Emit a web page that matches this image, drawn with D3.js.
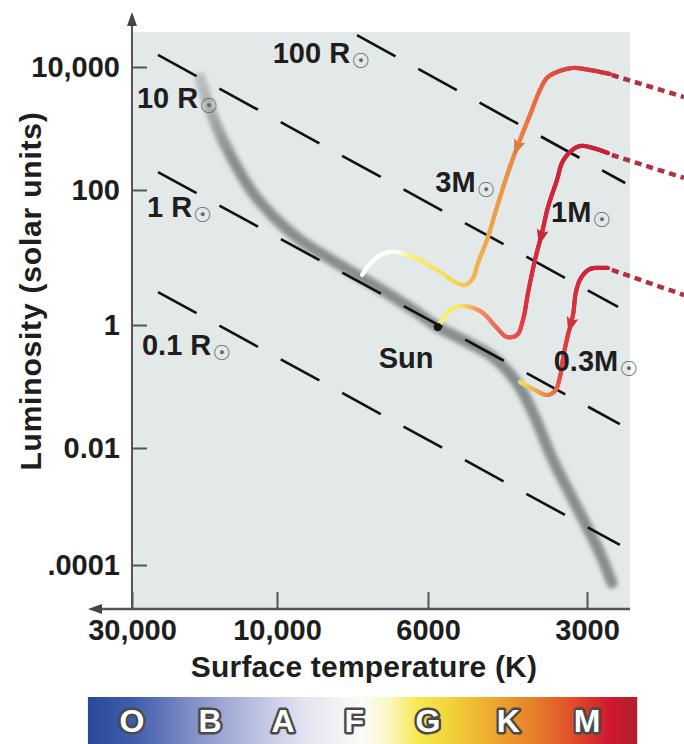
<!DOCTYPE html>
<html>
<head>
<meta charset="utf-8">
<style>
  body { margin: 0; background: #fff; }
  svg text { font-family: "Liberation Sans", Arial, sans-serif; font-weight: bold; }
</style>
<title>H-R diagram</title>
</head>
<body>
<svg id="chart" width="684" height="744"></svg>
<script src="https://cdn.jsdelivr.net/npm/d3@7/dist/d3.min.js"></script>
<script>
// axis ticks
var tempTicks = [30000, 10000, 6000, 3000];
var tempTickLabels = ["30,000", "10,000", "6000", "3000"];
var lumTicks = [1e4, 1e2, 1, 1e-2, 1e-4];
var lumTickLabels = ["10,000", "100", "1", "0.01", ".0001"];

// main sequence, [temperature K, luminosity]
var mainSequence = [
  [17900, 6620], [17000, 2900], [15760, 1058], [13960, 308], [12000, 90.3],
  [10000, 35.9], [9250, 18.2], [8645, 11.7], [8080, 7.74], [7500, 4.97],
  [6820, 2.78], [6270, 1.61], [5745, 0.928], [5063, 0.529], [4520, 0.302],
  [4070, 0.114], [3797, 0.0371], [3480, 0.00623], [3094, 0.000774],
  [2836, 0.00016], [2691, 0.0000493]
];

// lines of constant radius, start and end [T, L]
var radiusNames = ["100 R", "10 R", "1 R", "0.1 R"];
var radiusStart = [[7630, 33000], [24640, 15700], [24640, 196], [24640, 3.08]];
var radiusEnd = [[2540, 130], [2620, 1.85], [2600, 0.0245], [2600, 0.00022]];

// evolutionary tracks (from the main sequence outwards)
var trackNames = ["3M", "1M", "0.3M"];
var track3 = [
  [7500, 5.51], [7254, 8.58], [6990, 11.3], [6709, 12.1], [6442, 10.9],
  [6166, 9.18], [5694, 6.10], [5335, 4.34], [5108, 3.91], [4932, 4.97],
  [4826, 8.29], [4640, 18.2], [4442, 56.0], [4198, 237], [4018, 650],
  [3847, 1658], [3683, 4227], [3573, 6625], [3420, 8290], [3189, 9630],
  [2961, 8940], [2715, 7695]
];
var track1 = [
  [5750, 0.93], [5571, 1.36], [5405, 1.73], [5174, 1.91], [4932, 1.79],
  [4722, 1.51], [4442, 0.894], [4253, 0.638], [4071, 0.688], [3966, 1.186],
  [3880, 2.98], [3764, 9.18], [3651, 23.1], [3556, 56.0], [3420, 145],
  [3346, 275], [3231, 415], [3094, 519], [2923, 482], [2738, 400]
];
var track03 = [
  [4018, 0.118], [3897, 0.102], [3764, 0.0877], [3573, 0.0727], [3450, 0.0845],
  [3376, 0.1427], [3317, 0.3505], [3260, 0.688], [3189, 1.41], [3148, 3.08],
  [3080, 4.97], [2961, 6.75], [2738, 6.99]
];
var tracks = [track3, track1, track03];
// dotted continuation of each track, [T, L]
var trackTails = [
  [[2691, 7413], [1966, 3253]],
  [[2691, 371], [1966, 157]],
  [[2691, 6.53], [1966, 2.78]]
];
// luminosity where each direction arrow sits
var trackArrowL = [500, 20, 1];

var sun = [5750, 0.93];

var spectralClasses = ["O", "B", "A", "F", "G", "K", "M"];
var spectralTemps = [30000, 16600, 9800, 7700, 6000, 4230, 3000];
var barTemps = [41900, 2410];

var svg = d3.select("#chart");

var x = d3.scaleLog().domain(tempTicks).range([132, 277, 428, 587]);
var y = d3.scaleLog().domain(lumTicks).range([67, 190, 325, 448, 565]);

var defs = svg.append("defs");
defs.append("filter").attr("id", "blur")
  .attr("x", "-20%").attr("y", "-20%").attr("width", "140%").attr("height", "140%")
  .append("feGaussianBlur").attr("stdDeviation", 2.2);

// band fades in at its bright end
var msGrad = defs.append("linearGradient").attr("id", "msGrad")
  .attr("gradientUnits", "userSpaceOnUse")
  .attr("x1", 0).attr("x2", 0)
  .attr("y1", y(mainSequence[0][1])).attr("y2", y(mainSequence[3][1]));
msGrad.append("stop").attr("offset", 0).attr("stop-color", "#b9c0c0");
msGrad.append("stop").attr("offset", 1).attr("stop-color", "#868e8e");

// plot background
svg.append("rect")
  .attr("x", 133).attr("y", 32)
  .attr("width", 497).attr("height", 577)
  .attr("fill", "#e3e8e9");

// main sequence band
var line = d3.line()
  .x(function(d) { return x(d[0]); })
  .y(function(d) { return y(d[1]); })
  .curve(d3.curveCatmullRom.alpha(0.5));

svg.append("path")
  .attr("d", line(mainSequence))
  .attr("fill", "none")
  .attr("stroke", "url(#msGrad)")
  .attr("stroke-width", 11)
  .attr("stroke-linecap", "round")
  .attr("filter", "url(#blur)");

// radius lines
svg.selectAll("line.radius")
  .data(radiusNames)
  .enter().append("line")
  .attr("class", "radius")
  .attr("x1", function(d, i) { return x(radiusStart[i][0]); })
  .attr("y1", function(d, i) { return y(radiusStart[i][1]); })
  .attr("x2", function(d, i) { return x(radiusEnd[i][0]); })
  .attr("y2", function(d, i) { return y(radiusEnd[i][1]); })
  .attr("stroke", "#111")
  .attr("stroke-width", 2.6)
  .attr("stroke-dasharray", "44,26");

// radius labels, offset from the start of their line
var radiusLabelOffset = [[13, 28, "end"], [-21, 53, "start"], [-11, 45, "start"], [-16, 63, "start"]];

function solarLabel(sel, name) {
  sel.append("tspan").text(name);
  sel.append("tspan")
    .attr("dx", 1).attr("dy", 5)
    .style("font-family", "DejaVu Sans")
    .style("font-weight", "normal")
    .style("font-size", "21px")
    .style("fill", "#666")
    .text("\u2609");
}

radiusNames.forEach(function(name, i) {
  var o = radiusLabelOffset[i];
  var t = svg.append("text")
    .attr("x", x(radiusStart[i][0]) + o[0])
    .attr("y", y(radiusStart[i][1]) + o[1])
    .attr("text-anchor", o[2])
    .style("font-size", "29px")
    .style("fill", "#1e1e1e");
  solarLabel(t, name);
});

// tracks, coloured along their length
var trackStops = [
  [[0, "#ffffff"], [0.11, "#ffffff"], [0.15, "#f6f272"], [0.27, "#f3d85a"], [0.33, "#f1b452"], [0.6, "#ec9046"], [0.8, "#e86a40"], [0.9, "#dc4242"], [1, "#d03040"]],
  [[0, "#f8f070"], [0.1, "#f6ea60"], [0.16, "#f09060"], [0.26, "#e86058"], [0.4, "#dd3040"], [1, "#c82038"]],
  [[0, "#f5e060"], [0.08, "#f0c050"], [0.18, "#ee8048"], [0.3, "#e44a40"], [1, "#cc2038"]]
];

var arrowPoints = [];

tracks.forEach(function(pts, k) {
  var tmp = svg.append("path").attr("d", line(pts)).attr("fill", "none");
  var node = tmp.node();
  var len = node.getTotalLength();
  var stops = trackStops[k];
  var colour = d3.scaleLinear()
    .domain(stops.map(function(s) { return s[0]; }))
    .range(stops.map(function(s) { return s[1]; }));
  var samples = [];
  for (var s = 0; s < len; s += 1.5) samples.push(node.getPointAtLength(s));
  samples.push(node.getPointAtLength(len));
  tmp.remove();

  // dotted tail first so the solid end sits on top
  svg.append("line")
    .attr("x1", x(trackTails[k][0][0])).attr("y1", y(trackTails[k][0][1]))
    .attr("x2", x(trackTails[k][1][0])).attr("y2", y(trackTails[k][1][1]))
    .attr("stroke", "#b3303f")
    .attr("stroke-width", 4.5)
    .attr("stroke-dasharray", "7,5");

  var g = svg.append("g");
  for (var i = 1; i < samples.length; i++) {
    g.append("line")
      .attr("x1", samples[i - 1].x).attr("y1", samples[i - 1].y)
      .attr("x2", samples[i].x).attr("y2", samples[i].y)
      .attr("stroke", colour(i / (samples.length - 1)))
      .attr("stroke-width", 4.2)
      .attr("stroke-linecap", "round");
  }

  // arrow pointing back toward the main sequence
  var ty = y(trackArrowL[k]);
  var best = -1, bestD = 1e9;
  for (var j = Math.floor(samples.length * 0.3); j < samples.length - 4; j++) {
    var dd = Math.abs(samples[j].y - ty);
    if (dd < bestD) { bestD = dd; best = j; }
  }
  var a = samples[best + 4], b = samples[best - 4];
  var ang = Math.atan2(b.y - a.y, b.x - a.x) * 180 / Math.PI;
  svg.append("path")
    .attr("d", "M9,0L-7,-6L-4,0L-7,6Z")
    .attr("transform", "translate(" + samples[best].x + "," + samples[best].y + ") rotate(" + ang + ")")
    .attr("fill", d3.color(colour(best / (samples.length - 1))).darker(0.2));
  arrowPoints.push(samples[best]);
});

// track labels, offset from their arrows
var trackLabelOffset = [[-82, 45], [10, -15], [-17, 47]];
trackNames.forEach(function(name, k) {
  var t = svg.append("text")
    .attr("x", arrowPoints[k].x + trackLabelOffset[k][0])
    .attr("y", arrowPoints[k].y + trackLabelOffset[k][1])
    .style("font-size", "29px")
    .style("fill", "#1e1e1e");
  solarLabel(t, name);
});

// the Sun
svg.append("circle")
  .attr("cx", x(sun[0])).attr("cy", y(sun[1]))
  .attr("r", 4).attr("fill", "#111");
svg.append("text")
  .attr("x", x(sun[0]) - 59).attr("y", y(sun[1]) + 41)
  .style("font-size", "29px")
  .style("fill", "#1e1e1e")
  .text("Sun");

// axes
var xAxis = d3.axisBottom(x)
  .tickValues(tempTicks)
  .tickFormat(function(d, i) { return tempTickLabels[i]; })
  .tickSizeInner(-17).tickSizeOuter(0).tickPadding(10);
var gx = svg.append("g").attr("transform", "translate(0,609)").call(xAxis);
gx.select(".domain").remove();
gx.selectAll("line").attr("stroke", "#555").attr("stroke-width", 2);
gx.selectAll("text").style("font-size", "29px").style("fill", "#1e1e1e");

var yAxis = d3.axisLeft(y)
  .tickValues(lumTicks)
  .tickFormat(function(d, i) { return lumTickLabels[i]; })
  .tickSizeInner(-15).tickSizeOuter(0).tickPadding(12);
var gy = svg.append("g").attr("transform", "translate(132,0)").call(yAxis);
gy.select(".domain").remove();
gy.selectAll("line").attr("stroke", "#555").attr("stroke-width", 2);
gy.selectAll("text").style("font-size", "29px").style("fill", "#1e1e1e");

// axis lines with arrowheads
svg.append("line").attr("x1", 132).attr("y1", 20).attr("x2", 132).attr("y2", 610)
  .attr("stroke", "#555").attr("stroke-width", 2);
svg.append("path").attr("d", "M132,12L127,26L137,26Z").attr("fill", "#444");
svg.append("line").attr("x1", 96).attr("y1", 609).attr("x2", 630).attr("y2", 609)
  .attr("stroke", "#555").attr("stroke-width", 2.5);
svg.append("path").attr("d", "M88,609L102,604L102,614Z").attr("fill", "#444");

// axis titles
svg.append("text")
  .attr("x", 364).attr("y", 677)
  .attr("text-anchor", "middle")
  .style("font-size", "30px")
  .style("letter-spacing", "0.2px")
  .style("fill", "#1e1e1e")
  .text("Surface temperature (K)");
svg.append("text")
  .attr("transform", "translate(41,291) rotate(-90)")
  .attr("text-anchor", "middle")
  .style("font-size", "30px")
  .style("letter-spacing", "0.8px")
  .style("fill", "#1e1e1e")
  .text("Luminosity (solar units)");

// spectral class bar
var barStops = [
  [0, "#284a98"], [0.08, "#3f5caa"], [0.2, "#8794c8"], [0.3, "#b9bfe0"],
  [0.4, "#e6e6f2"], [0.5, "#fbfbf8"], [0.55, "#fbf6c0"], [0.6, "#f6ea50"],
  [0.66, "#f2d23a"], [0.73, "#eeac30"], [0.8, "#e8862c"], [0.88, "#e0502a"],
  [0.95, "#cf1830"], [1, "#b0202a"]
];
var grad = defs.append("linearGradient").attr("id", "spectral")
  .attr("x1", "0%").attr("x2", "100%").attr("y1", "0%").attr("y2", "0%");
grad.selectAll("stop").data(barStops).enter().append("stop")
  .attr("offset", function(d) { return d[0]; })
  .attr("stop-color", function(d) { return d[1]; });

svg.append("rect")
  .attr("x", x(barTemps[0])).attr("y", 697)
  .attr("width", x(barTemps[1]) - x(barTemps[0])).attr("height", 47)
  .attr("fill", "url(#spectral)");

svg.selectAll("text.cls")
  .data(spectralClasses)
  .enter().append("text")
  .attr("class", "cls")
  .attr("x", function(d, i) { return x(spectralTemps[i]); })
  .attr("y", 732)
  .attr("text-anchor", "middle")
  .style("font-size", "32px")
  .style("fill", "#fff")
  .style("stroke", "#4a4a4a")
  .style("stroke-width", "5px")
  .style("stroke-linejoin", "round")
  .style("paint-order", "stroke")
  .text(function(d) { return d; });
</script>
</body>
</html>
